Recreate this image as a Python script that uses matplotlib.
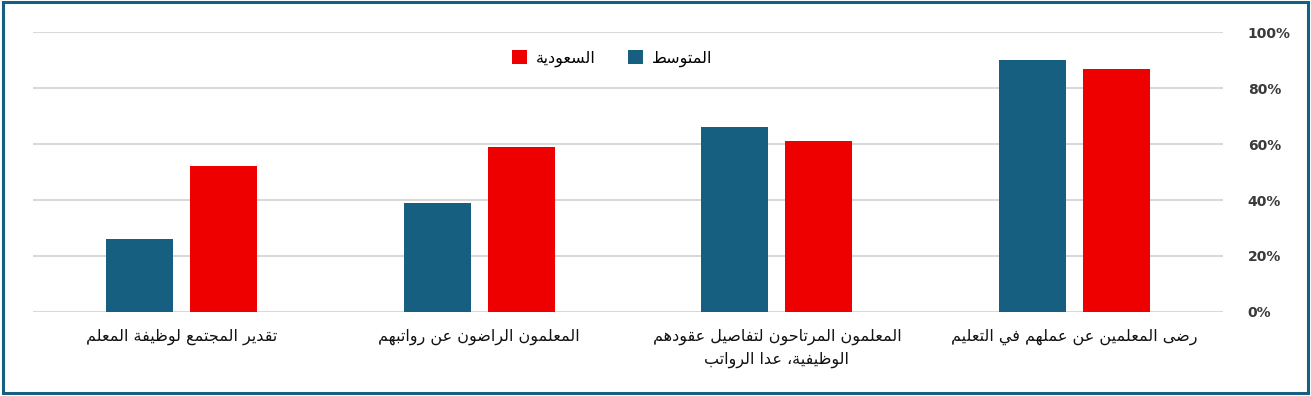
import matplotlib
matplotlib.use("Agg")
import matplotlib.pyplot as plt
import numpy as np
from matplotlib.patches import Rectangle

# ---------------- data ----------------
categories = [
    "رضى المعلمين عن عملهم في التعليم",
    "المعلمون المرتاحون لتفاصيل عقودهم\nالوظيفية، عدا الرواتب",
    "المعلمون الراضون عن رواتبهم",
    "تقدير المجتمع لوظيفة المعلم",
]
series_names = ["المتوسط", "السعودية"]
avg_values = [90, 66, 39, 26]
saudi_values = [87, 61, 59, 52]
y_ticks = [0, 20, 40, 60, 80, 100]
y_tick_labels = ["0%", "20%", "40%", "60%", "80%", "100%"]

# ---------------- minimal Arabic shaping ----------------
_FOUR = {0x0626: 0xFE89, 0x0628: 0xFE8F, 0x062A: 0xFE95, 0x062B: 0xFE99,
         0x062C: 0xFE9D, 0x062D: 0xFEA1, 0x062E: 0xFEA5, 0x0633: 0xFEB1,
         0x0634: 0xFEB5, 0x0635: 0xFEB9, 0x0636: 0xFEBD, 0x0637: 0xFEC1,
         0x0638: 0xFEC5, 0x0639: 0xFEC9, 0x063A: 0xFECD, 0x0641: 0xFED1,
         0x0642: 0xFED5, 0x0643: 0xFED9, 0x0644: 0xFEDD, 0x0645: 0xFEE1,
         0x0646: 0xFEE5, 0x0647: 0xFEE9, 0x064A: 0xFEF1}
_TWO = {0x0622: 0xFE81, 0x0623: 0xFE83, 0x0624: 0xFE85, 0x0625: 0xFE87,
        0x0627: 0xFE8D, 0x0629: 0xFE93, 0x062F: 0xFEA9, 0x0630: 0xFEAB,
        0x0631: 0xFEAD, 0x0632: 0xFEAF, 0x0648: 0xFEED, 0x0649: 0xFEEF}
_LAMALEF = {0x0622: 0xFEF5, 0x0623: 0xFEF7, 0x0625: 0xFEF9, 0x0627: 0xFEFB}


def _is_ar(c):
    return c is not None and (ord(c) in _FOUR or ord(c) in _TWO)


def _dual(c):
    return c is not None and ord(c) in _FOUR


def shape_line(s):
    chars = list(s)
    units = []
    i = 0
    while i < len(chars):
        c = chars[i]
        if ord(c) == 0x0644 and i + 1 < len(chars) and ord(chars[i + 1]) in _LAMALEF:
            units.append(("LA", chars[i + 1]))
            i += 2
        else:
            units.append(("C", c))
            i += 1
    out = []
    for k, (kind, c) in enumerate(units):
        prev = units[k - 1] if k > 0 else None
        nxt = units[k + 1] if k + 1 < len(units) else None
        prev_joins = prev is not None and prev[0] == "C" and _dual(prev[1])
        if kind == "LA":
            out.append(chr(_LAMALEF[ord(c)] + (1 if prev_joins else 0)))
            continue
        if not _is_ar(c):
            out.append(c)
            continue
        next_ar = nxt is not None and (nxt[0] == "LA" or _is_ar(nxt[1]))
        o = ord(c)
        if o in _FOUR:
            base = _FOUR[o]
            if prev_joins and next_ar:
                out.append(chr(base + 3))
            elif prev_joins:
                out.append(chr(base + 1))
            elif next_ar:
                out.append(chr(base + 2))
            else:
                out.append(chr(base))
        else:
            base = _TWO[o]
            out.append(chr(base + (1 if prev_joins else 0)))
    return "".join(reversed(out))


def ar(s):
    return "\n".join(shape_line(line) for line in s.split("\n"))


# ---------------- figure ----------------
plt.rcParams["font.family"] = ["DejaVu Sans"]
BLUE = "#175F80"
RED = "#EE0000"

fig = plt.figure(figsize=(13.11, 3.96), dpi=100)
ax = fig.add_axes([0.0250, 0.2129, 0.9082, 0.7051])

x = np.arange(len(categories))
w = 0.225
off = 0.141
ax.bar(x + off, avg_values, width=w, color=BLUE, label=ar(series_names[0]), zorder=3)
ax.bar(x - off, saudi_values, width=w, color=RED, label=ar(series_names[1]), zorder=3)

ax.set_xlim(len(categories) - 0.5, -0.5)
ax.set_ylim(0, 100)
ax.yaxis.tick_right()
ax.set_yticks(y_ticks)
ax.set_yticklabels(y_tick_labels, fontsize=10, fontweight="bold", color="#3A3A3A")
ax.tick_params(axis="y", length=0, pad=17.5)
ax.set_xticks(x)
ax.set_xticklabels([ar(c) for c in categories], fontsize=11.5, color="#111111",
                   linespacing=1.55, va="top")
ax.tick_params(axis="x", length=0, pad=12)
ax.grid(axis="y", color="#D9D9D9", linewidth=1.5, zorder=0)
for sp in ax.spines.values():
    sp.set_visible(False)

handles, labels = ax.get_legend_handles_labels()
leg = fig.legend(handles[::-1], labels[::-1], loc="center", bbox_to_anchor=(0.467, 0.853),
                 ncol=2, frameon=False, fontsize=11.5, handlelength=0.95, handleheight=0.95,
                 handletextpad=0.55, columnspacing=2.0)

fig.patches.append(Rectangle((0.002, 0.008), 0.996, 0.988, transform=fig.transFigure,
                             fill=False, edgecolor=BLUE, linewidth=2.2))

fig.savefig("out.png", dpi=100, facecolor="white")
